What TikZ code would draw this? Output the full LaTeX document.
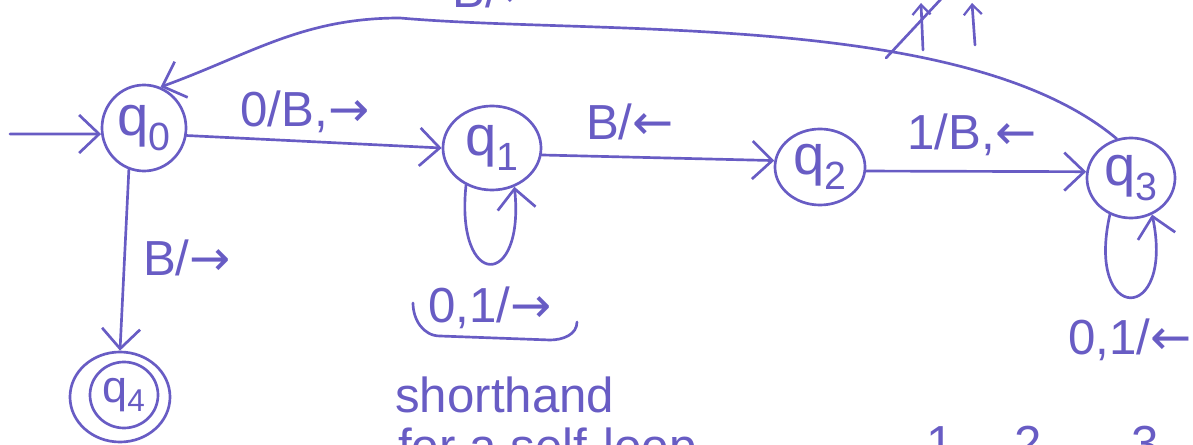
\documentclass[tikz,border=0pt]{standalone}
\usepackage{fontspec}
\setmainfont{Liberation Sans}
\newfontfamily\arrowfont{DejaVu Sans}
\usetikzlibrary{arrows.meta,shapes.geometric}
\definecolor{ink}{RGB}{104,92,196}
\newcommand{\ra}{{\arrowfont →}}
\newcommand{\la}{{\arrowfont ←}}
\begin{document}
\begin{tikzpicture}[x=0.025cm,y=-0.025cm,
  state/.style={draw=ink,ellipse,line width=1.9pt,inner sep=0pt,
    font=\fontsize{40}{44}\selectfont,text=ink},
  edge/.style={draw=ink,line width=1.9pt,line cap=round,
    -{Straight Barb[length=0.5cm,width=0.95cm,line width=1.9pt]}},
  lbl/.style={text=ink,font=\fontsize{35}{39}\selectfont,inner sep=0pt},
  inkline/.style={draw=ink,line width=1.9pt,line cap=round}]
\useasboundingbox (0,0) rectangle (1193,445);

% states
\node[state,minimum width=2.1cm,minimum height=2.15cm] (q0) at (144,128) {q\textsubscript{0}};
\node[state,minimum width=2.45cm,minimum height=2.1cm] (q1) at (492,148) {q\textsubscript{1}};
\node[state,minimum width=2.25cm,minimum height=1.9cm] (q2) at (820,167) {q\textsubscript{2}};
\node[state,minimum width=2.2cm,minimum height=2.0cm] (q3) at (1131,178) {q\textsubscript{3}};
\node[state,minimum width=2.5cm,minimum height=2.25cm] (q4) at (120,397) {};
\node[state,minimum width=1.7cm,minimum height=1.65cm,font=\fontsize{32}{36}\selectfont] (q4in) at (124,395) {q\textsubscript{4}};

% start arrow and transitions
\coordinate (s) at (10,134);
\draw[edge] (s) -- (q0.188);
\draw[edge] (q0.-10) -- (q1.west);
\draw[edge] (q1.-8) -- (q2.172);
\draw[edge] (q2.-5) -- (q3.172);
\draw[edge] (q0.250) -- (q4.90);

% self-loops
\draw[edge] (q1.235) .. controls (455,290) and (525,290) .. (q1.300);
\draw[edge] (q3.240) .. controls (1085,325) and (1175,325) .. (q3.300);

% return edge over the top
\coordinate (apex) at (400,18);
\draw[edge] (q3.110) to[out=140,in=-5,looseness=0.7] (apex) to[out=180,in=20] (q0.68);

% labels
\node[lbl] (l01) at (305,112) {0/B,\ra};
\node[lbl] (l12) at (630,122) {B/\la};
\node[lbl] (l23) at (972,135) {1/B,\la};
\node[lbl] (l04) at (187,258) {B/\ra};
\node[lbl] (l11) at (490,308) {0,1/\ra};
\node[lbl,anchor=west] (l33) at (1068,340) {0,1/\la};
\node[lbl,anchor=base west] (l30) at (452,8) {B/\la};
\node[lbl,anchor=base west] (sh) at (395,413) {shorthand};

% bracket under the loop label
\draw[inkline] (413,303) to[out=-90,in=180] (440,336) -- (550,340) to[out=0,in=-90] (577,322);

% marks crossing the return edge
\draw[inkline] (886,58) -- (942,-2);
\draw[inkline,-{Straight Barb[length=0.25cm,width=0.45cm,line width=1.6pt]}] (923,50) -- (921,3);
\draw[inkline,-{Straight Barb[length=0.25cm,width=0.45cm,line width=1.6pt]}] (975,45) -- (972,3);

% next line of notes
\node[lbl,anchor=north west] (nt) at (398,428) {for a self-loop};
\node[lbl,anchor=north] (n1) at (940,426) {1};
\node[lbl,anchor=north] (n2) at (1028,426) {2};
\node[lbl,anchor=north] (n3) at (1145,426) {3};
\end{tikzpicture}
\end{document}
